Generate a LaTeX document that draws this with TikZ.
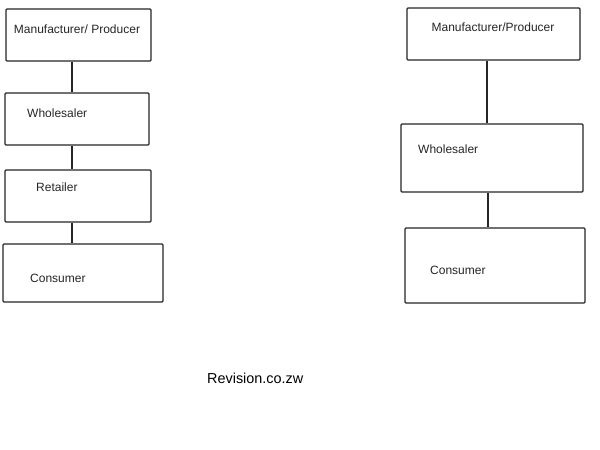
\documentclass[tikz,border=0pt]{standalone}
\usepackage{fontspec}
\setmainfont{Liberation Sans}
\begin{document}
\begin{tikzpicture}[x=1pt,y=-1pt,
  box/.style={draw=black!85, line width=1.2pt, rounded corners=1pt, rectangle, inner sep=0pt},
  lbl/.style={inner sep=0pt, font=\fontsize{12}{14}\selectfont, text=black!85},
  link/.style={draw=black!85, line width=1.2pt}]
\useasboundingbox[fill=white] (0,0) rectangle (600,450);
% left column
\node[box, minimum width=145pt, minimum height=52pt] (L1) at (78.5,35) {};
\node[box, minimum width=144pt, minimum height=52pt] (L2) at (77,119) {};
\node[box, minimum width=146pt, minimum height=52pt] (L3) at (78,196) {};
\node[box, minimum width=160pt, minimum height=58pt] (L4) at (83,273) {};
\node[lbl] (tL1) at (77,29) {Manufacturer/ Producer};
\node[lbl, anchor=west] (tL2) at (27,113) {Wholesaler};
\node[lbl, anchor=west] (tL3) at (36,187) {Retailer};
\node[lbl, anchor=west] (tL4) at (30,278) {Consumer};
\coordinate (cL) at (72,0);
\draw[link] (L1.south -| cL) -- (L2.north -| cL);
\draw[link] (L2.south -| cL) -- (L3.north -| cL);
\draw[link] (L3.south -| cL) -- (L4.north -| cL);
% right column
\node[box, minimum width=173pt, minimum height=52pt] (R1) at (493.5,34) {};
\node[box, minimum width=182pt, minimum height=68pt] (R2) at (492,158) {};
\node[box, minimum width=180pt, minimum height=75pt] (R3) at (495,265.5) {};
\node[lbl] (tR1) at (493,27) {Manufacturer/Producer};
\node[lbl, anchor=west] (tR2) at (418,149) {Wholesaler};
\node[lbl, anchor=west] (tR3) at (430,270) {Consumer};
\coordinate (cR1) at (487,0);
\coordinate (cR2) at (488,0);
\draw[link] (R1.south -| cR1) -- (R2.north -| cR1);
\draw[link] (R2.south -| cR2) -- (R3.north -| cR2);
% footer
\node[lbl, anchor=west, font=\fontsize{14.4}{17}\selectfont, text=black] (rev) at (207,378) {Revision.co.zw};
\end{tikzpicture}
\end{document}
